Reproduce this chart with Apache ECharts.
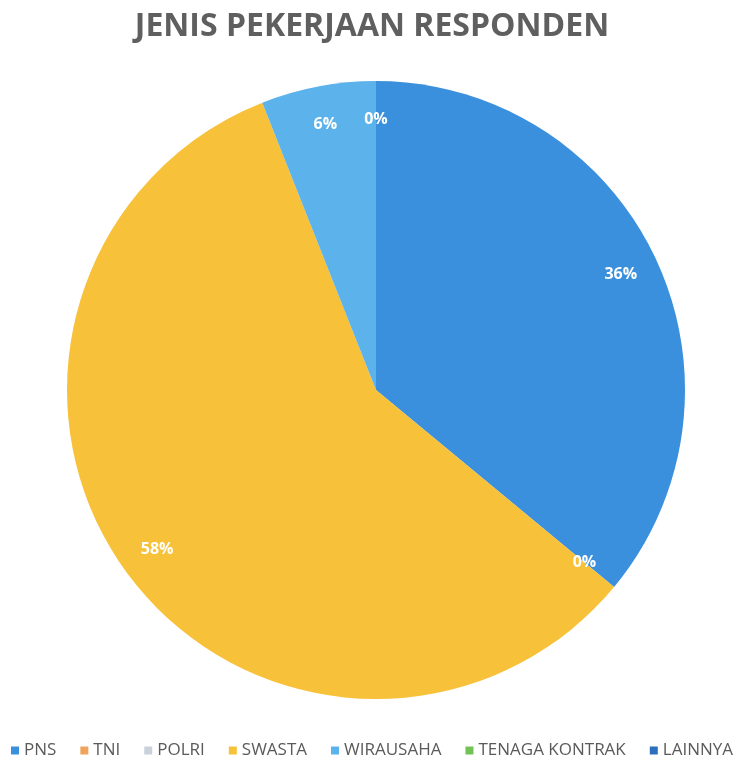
<!DOCTYPE html>
<html>
<head>
<meta charset="utf-8">
<script src="https://cdn.jsdelivr.net/npm/echarts@6/dist/echarts.min.js"></script>
<style>
  html, body { margin: 0; padding: 0; background: #fff; }
  #chartmain { width: 744px; height: 761px; }
</style>
</head>
<body>
<div id="chartmain"></div>
<script>
// data kategori dan persentase
var categories = ['PNS', 'TNI', 'POLRI', 'SWASTA', 'WIRAUSAHA', 'TENAGA KONTRAK', 'LAINNYA'];
var values = [36, 0, 0, 58, 6, 0, 0];
var colors = ['#3b90dd', '#f0a35c', '#c9d1db', '#f8c13a', '#5cb2ea', '#72c255', '#2c6fbd'];

var pieData = categories.map(function (name, i) {
  return { name: name, value: values[i], itemStyle: { color: colors[i] } };
});

var option = {
  animation: false,
  title: {
    text: 'JENIS PEKERJAAN RESPONDEN',
    left: 'center',
    top: 6,
    textStyle: {
      fontFamily: 'Open Sans',
      fontWeight: 'bold',
      fontSize: 32,
      color: '#5f5f5f'
    }
  },
  legend: {
    top: 737,
    left: 'center',
    padding: [5, 0, 5, 12],
    icon: 'rect',
    itemWidth: 8,
    itemHeight: 8,
    itemGap: 24,
    data: categories,
    textStyle: {
      fontFamily: 'Open Sans',
      fontSize: 17,
      color: '#5a5a5a'
    }
  },
  series: [
    {
      // pie utama
      type: 'pie',
      center: [376, 390],
      radius: 309,
      startAngle: 90,
      clockwise: true,
      silent: true,
      label: { show: false },
      labelLine: { show: false },
      data: pieData
    },
    {
      // ring transparan hanya untuk posisi label
      type: 'pie',
      center: [376, 390],
      radius: [226, 309],
      startAngle: 90,
      clockwise: true,
      silent: true,
      itemStyle: { color: 'rgba(0,0,0,0)' },
      label: {
        show: true,
        position: 'inside',
        formatter: '{d}%',
        color: '#ffffff',
        fontFamily: 'Open Sans',
        fontWeight: 'bold',
        fontSize: 16
      },
      labelLine: { show: false },
      data: categories.map(function (name, i) {
        return { name: name, value: values[i] };
      })
    }
  ]
};

var myChart = echarts.init(document.getElementById('chartmain'));
myChart.setOption(option);
</script>
</body>
</html>
